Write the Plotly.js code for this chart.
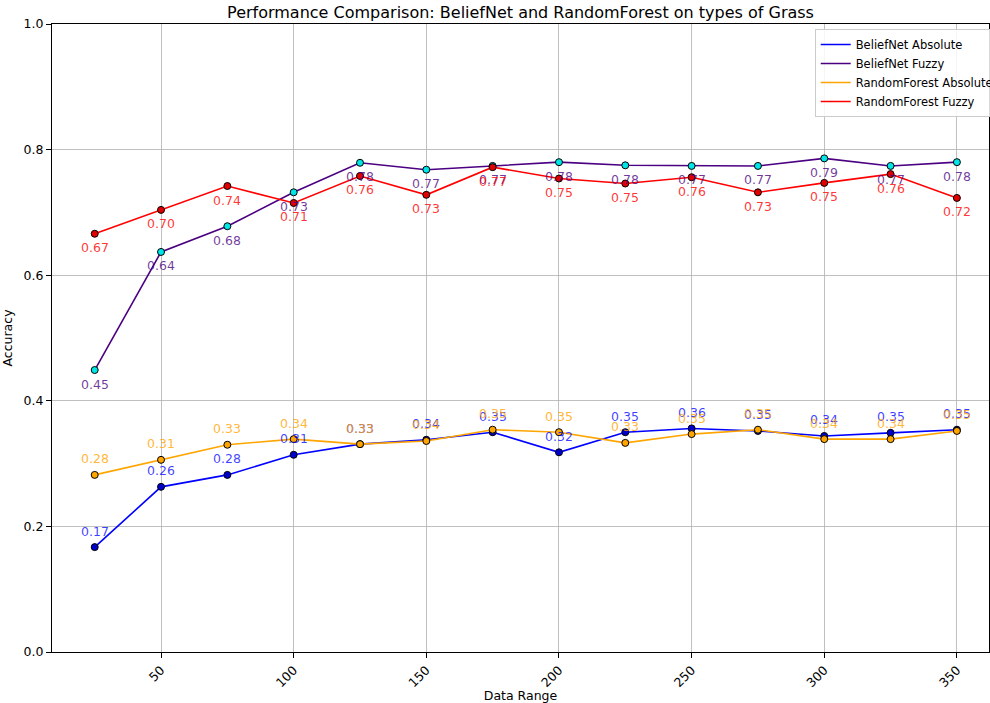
<!DOCTYPE html>
<html><head><meta charset="utf-8">
<script src="https://cdn.plot.ly/plotly-3.0.1.min.js"></script>
<style>body{margin:0;background:#fff}#chart{width:990px;height:703px}</style>
</head><body><div id="chart"></div>
<script>
const dataRange = [25,50,75,100,125,150,175,200,225,250,275,300,325,350];
const beliefAbs = [0.167,0.263,0.282,0.314,0.331,0.338,0.350,0.318,0.350,0.356,0.352,0.344,0.349,0.354];
const beliefFuzzy = [0.449,0.637,0.678,0.732,0.779,0.768,0.774,0.780,0.775,0.774,0.774,0.786,0.774,0.780];
const rfAbs = [0.282,0.306,0.330,0.339,0.331,0.336,0.354,0.350,0.333,0.347,0.354,0.339,0.339,0.352];
const rfFuzzy = [0.666,0.704,0.742,0.715,0.758,0.728,0.772,0.754,0.746,0.756,0.732,0.747,0.761,0.723];
const yTicks = [0,0.2,0.4,0.6,0.8,1.0];
const xTicks = [50,100,150,200,250,300,350];

const series = [
  {name:'BeliefNet Absolute', y:beliefAbs, line:'#0000ff', marker:'#0000cc', text:'rgba(0,0,255,0.75)', above:true},
  {name:'BeliefNet Fuzzy', y:beliefFuzzy, line:'#4b0082', marker:'#00e5e5', text:'rgba(75,0,130,0.78)', above:false},
  {name:'RandomForest Absolute', y:rfAbs, line:'#ffa500', marker:'#ffa500', text:'rgba(255,165,0,0.8)', above:true},
  {name:'RandomForest Fuzzy', y:rfFuzzy, line:'#ff0000', marker:'#e00000', text:'rgba(255,0,0,0.8)', above:false}
];

const traces = [];
const annotations = [];
series.forEach(s => {
  traces.push({x:dataRange, y:s.y, mode:'lines', name:s.name, line:{color:s.line, width:1.6}, hoverinfo:'skip'});
  traces.push({x:dataRange, y:s.y, mode:'markers', showlegend:false, marker:{color:s.marker, size:7, line:{color:'#000', width:1}}, hoverinfo:'skip'});
  dataRange.forEach((xv,i) => {
    annotations.push({x:xv, y:s.y[i], xref:'x', yref:'y', text:s.y[i].toFixed(2), showarrow:false,
      yshift: s.above ? 16 : -14, font:{family:'DejaVu Sans', size:12.5, color:s.text}});
  });
});

const layout = {
  width:990, height:703,
  margin:{l:52, r:1, t:24, b:51, autoexpand:false},
  paper_bgcolor:'#fff', plot_bgcolor:'#fff',
  font:{family:'DejaVu Sans', size:12.5, color:'#000'},
  title:{text:'Performance Comparison: BeliefNet and RandomForest on types of Grass', x:0.5, xref:'paper', y:0.983, yanchor:'middle', font:{size:16, family:'DejaVu Sans'}},
  xaxis:{range:[8.9,362.1], tickvals:xTicks, ticktext:xTicks.map(String), tickangle:-45, showgrid:true, gridcolor:'#b0b0b0', gridwidth:0.8,
    showline:true, mirror:true, linecolor:'#000', linewidth:1, ticks:'outside', ticklen:5, tickcolor:'#000', zeroline:false, automargin:false,
    title:{text:'Data Range', standoff:6, font:{size:12.5}}},
  yaxis:{range:[0,1], tickvals:yTicks, ticktext:yTicks.map(v=>v.toFixed(1)), showgrid:true, gridcolor:'#b0b0b0', gridwidth:0.8,
    showline:true, mirror:true, linecolor:'#000', linewidth:1, ticks:'outside', ticklen:5, tickcolor:'#000', zeroline:false, automargin:false,
    title:{text:'Accuracy', standoff:8, font:{size:12.5}}},
  legend:{x:0.814, xanchor:'left', y:0.992, yanchor:'top', bgcolor:'rgba(255,255,255,0.85)', bordercolor:'#cccccc', borderwidth:1,
    font:{size:11.5, family:'DejaVu Sans'}, tracegroupgap:0, itemwidth:30},
  annotations:annotations,
  showlegend:true
};
Plotly.newPlot('chart', traces, layout, {displayModeBar:false, staticPlot:true});
</script></body></html>
